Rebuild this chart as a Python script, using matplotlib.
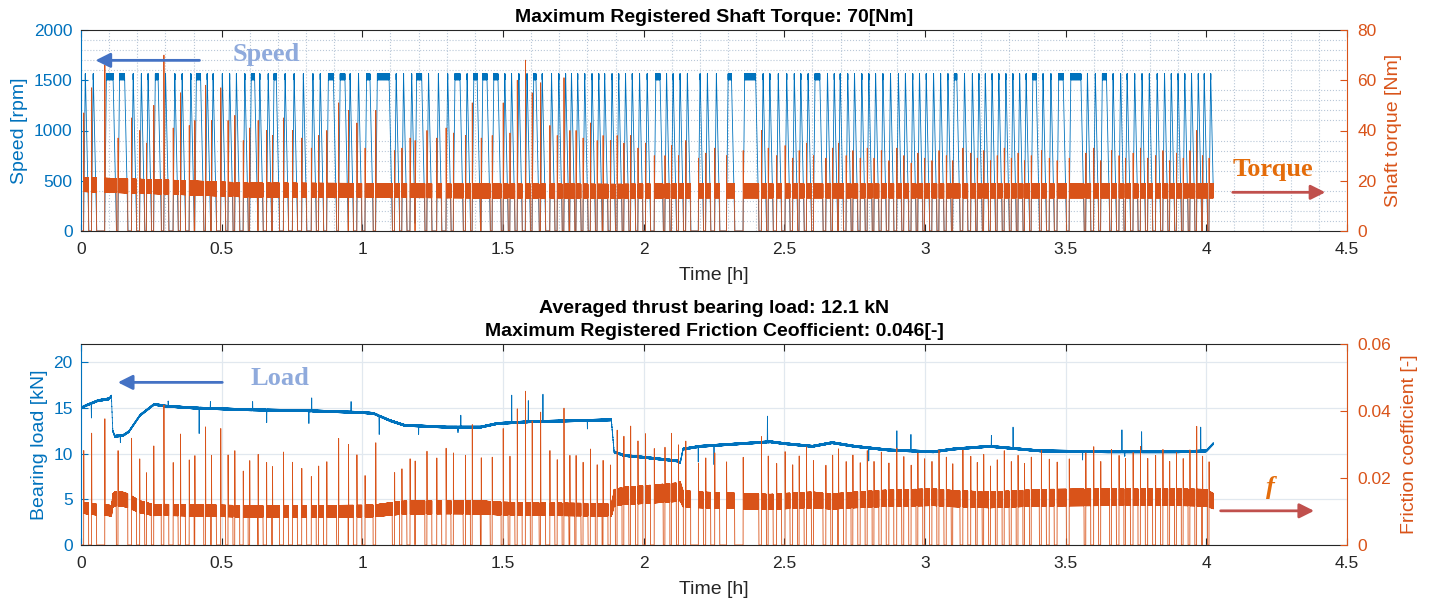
import numpy as np
import matplotlib
matplotlib.use("Agg")
import matplotlib.pyplot as plt
from matplotlib.ticker import MultipleLocator, FuncFormatter

plt.rcParams['font.family'] = ['Liberation Sans', 'DejaVu Sans']

BLUE = '#0072BD'
ORANGE = '#D95319'
DARK = '#262626'

# speed cycles: time the shaft reaches full speed [h]
cycle_start = [
    0.015, 0.043, 0.090, 0.137, 0.185, 0.214, 0.238, 0.264, 0.300, 0.333, 0.359, 0.390,
    0.410, 0.448, 0.469, 0.502, 0.528, 0.552, 0.582, 0.605, 0.635, 0.665, 0.686,
    0.725, 0.757, 0.790, 0.824, 0.850, 0.879, 0.921, 0.956, 0.986, 1.015, 1.053, 1.120,
    1.146, 1.175, 1.193, 1.235, 1.270, 1.303, 1.329, 1.372,
    1.396, 1.428, 1.467, 1.506, 1.530, 1.556, 1.585, 1.609, 1.639, 1.672, 1.698, 1.722,
    1.743, 1.765, 1.790, 1.816, 1.840, 1.861, 1.887, 1.911, 1.935, 1.959, 1.985, 2.012, 2.043,
    2.081, 2.104, 2.129, 2.155, 2.200, 2.226, 2.258, 2.300, 2.359, 2.424, 2.448, 2.478,
    2.508, 2.535, 2.558, 2.584, 2.609, 2.653, 2.677, 2.698, 2.725, 2.749, 2.775, 2.800,
    2.824, 2.850, 2.877, 2.905, 2.930, 2.956, 2.980, 3.004, 3.030, 3.055, 3.081, 3.104,
    3.140, 3.168, 3.191, 3.214, 3.238, 3.262, 3.287, 3.312, 3.336, 3.359, 3.383, 3.419,
    3.447, 3.475,
    3.518, 3.577, 3.605, 3.630, 3.668, 3.695, 3.718, 3.745, 3.771, 3.797, 3.825, 3.851,
    3.875, 3.899, 3.923, 3.947, 3.971, 3.992, 4.015,
]
# how long full speed is held in each cycle [h] (flat dark tops)
cycle_hold = [
    0, 0, 0.024, 0.018, 0, 0, 0, 0.010, 0, 0, 0, 0,
    0.015, 0, 0, 0, 0, 0, 0, 0.012, 0, 0, 0.008,
    0, 0, 0, 0, 0, 0.018, 0.017, 0, 0, 0.012, 0.042, 0,
    0, 0, 0.018, 0, 0, 0, 0.018, 0,
    0.012, 0.015, 0.015, 0, 0, 0, 0, 0.008, 0, 0, 0, 0,
    0, 0, 0, 0, 0, 0, 0, 0, 0, 0, 0, 0, 0.015,
    0, 0, 0, 0, 0, 0, 0, 0.012, 0.039, 0, 0, 0,
    0, 0, 0, 0, 0.017, 0, 0, 0, 0, 0, 0, 0,
    0, 0, 0, 0, 0, 0, 0, 0, 0, 0, 0, 0.009,
    0, 0, 0, 0, 0, 0, 0, 0, 0, 0, 0.012, 0,
    0, 0.016,
    0.036, 0, 0, 0.015, 0, 0, 0, 0, 0, 0, 0, 0,
    0, 0, 0, 0, 0, 0, 0,
]
# start-up torque peak of each cycle [Nm]
torque_peak = [
    47, 57, 66, 37, 45, 40, 35, 50, 70, 41, 55, 42,
    44, 58, 44, 57, 44, 46, 36, 41, 44, 40, 38,
    45, 40, 37, 33, 38, 40, 51, 48, 43, 33, 48, 32,
    33, 37, 36, 40, 37, 41, 39, 38,
    51, 37, 38, 51, 39, 60, 68, 55, 59, 42, 38, 61,
    40, 40, 37, 43, 36, 38, 36, 38, 35, 38, 33, 35, 30,
    30, 34, 30, 36, 29, 31, 33, 30, 32, 40, 33, 30,
    34, 29, 32, 35, 30, 29, 33, 35, 30, 32, 29, 33,
    29, 32, 28, 33, 30, 27, 31, 29, 28, 32, 30, 28,
    33, 31, 29, 32, 28, 30, 33, 29, 31, 28, 30, 32,
    29, 28,
    29, 31, 33, 28, 32, 30, 29, 31, 33, 29, 30, 32,
    28, 31, 29, 32, 40, 30, 29,
]

speed_top = 1535       # rpm
speed_ripple = 30      # rpm, width of the dark band on the flat tops
band_time = [0.0, 0.3, 0.6, 1.9, 2.2, 4.03]           # running torque level [h]
band_torque = [18.5, 17.5, 16.3, 15.8, 16.0, 16.0]    # [Nm]
band_halfwidth = 2.8

# bearing load trend (bottom panel)
load_time = [0.0, 0.02, 0.06, 0.10, 0.108, 0.113, 0.12, 0.15, 0.17, 0.21,
             0.26, 0.30, 0.40, 0.60, 0.80, 1.00, 1.04, 1.10, 1.15, 1.30,
             1.42, 1.48, 1.60, 1.75, 1.885, 1.895, 1.93, 2.00, 2.12, 2.130,
             2.14, 2.20, 2.30, 2.40, 2.45, 2.50, 2.60, 2.67, 2.75, 2.87,
             3.03, 3.10, 3.23, 3.41, 3.65, 3.90, 4.00, 4.025]
load_kn = [15.0, 15.3, 15.8, 16.0, 16.3, 12.5, 11.9, 12.0, 12.4, 14.2,
           15.4, 15.2, 15.0, 14.8, 14.7, 14.5, 14.4, 13.6, 13.1, 12.9,
           12.9, 13.3, 13.5, 13.6, 13.7, 10.2, 9.8, 9.6, 9.2, 9.0,
           10.5, 10.8, 11.0, 11.2, 11.3, 11.1, 10.8, 11.2, 10.8, 10.4,
           10.2, 10.5, 10.8, 10.3, 10.2, 10.2, 10.3, 11.1]
load_spike_time = [0.037, 0.140, 0.310, 0.420, 0.460, 0.610, 0.660, 0.810, 0.820, 0.960,
                   1.060, 1.200, 1.340, 1.350, 1.531, 1.590, 1.642, 1.800, 2.194, 2.250,
                   2.440, 2.800, 2.900, 2.950, 3.236, 3.313, 3.560, 3.700, 3.710, 3.770, 3.980]
load_spike_kn = [14.0, 11.1, 15.8, 12.3, 15.6, 15.8, 13.5, 13.4, 16.0, 15.6,
                 12.2, 12.0, 12.4, 14.3, 16.3, 15.7, 16.4, 12.6, 9.0, 8.7,
                 14.0, 9.3, 12.4, 12.2, 12.1, 12.8, 9.2, 12.5, 9.7, 12.3, 12.8]
load_ripple = 0.1

mean_radius = 0.110    # m, friction coefficient = torque / (load * radius)
t_end = 4.025

# ---- build the traces ----
RISE, FALL, MIN_HOLD = 0.006, 0.012, 0.0008
spike_at = [s - RISE + 0.0008 for s in cycle_start]
t = np.union1d(np.arange(0, t_end, 0.0002), spike_at + load_spike_time)
zig = np.where(np.arange(t.size) % 2 == 0, 1.0, -1.0)

speed = np.zeros_like(t)
for s, h in zip(cycle_start, cycle_hold):
    e = s + max(h, MIN_HOLD)
    speed = np.maximum(speed, np.interp(t, [s - RISE, s, e, e + FALL],
                                        [0, speed_top, speed_top, 0], left=0, right=0))
speed = np.where(speed >= speed_top - 1e-6, speed_top + speed_ripple * zig, speed)

band = np.interp(t, band_time, band_torque) + band_halfwidth * zig
torque = np.where(speed > 120, band, 0.0)
for ts, pk in zip(spike_at, torque_peak):
    torque = np.maximum(torque, np.interp(t, [ts - 0.0003, ts, ts + 0.0012], [0, pk, 0],
                                          left=0, right=0))

load_smooth = np.interp(t, load_time, load_kn)
load = load_smooth + load_ripple * zig
for ts, v in zip(load_spike_time, load_spike_kn):
    d = v - np.interp(ts, load_time, load_kn)
    load += np.interp(t, [ts - 0.0008, ts, ts + 0.0008], [0, d, 0], left=0, right=0)
friction = torque / (load_smooth * 1000 * mean_radius)

# ---- figure ----
W, H = 1435, 605
fig = plt.figure(figsize=(W / 100, H / 100), dpi=100)
ax1 = fig.add_axes([81 / W, 1 - 231 / H, 1266 / W, 201 / H])
ax1r = ax1.twinx()
ax2 = fig.add_axes([81 / W, 1 - 545 / H, 1266 / W, 201 / H])
ax2r = ax2.twinx()

fmt = FuncFormatter(lambda v, p: '0' if abs(v) < 1e-12 else f'{v:g}')

for a, ar in ((ax1, ax1r), (ax2, ax2r)):
    a.set_xlim(0, 4.5)
    a.xaxis.set_major_locator(MultipleLocator(0.5))
    a.xaxis.set_major_formatter(fmt)
    a.spines['right'].set_visible(False)
    for sp in ('top', 'bottom'):
        a.spines[sp].set_color(DARK)
        a.spines[sp].set_linewidth(0.8)
        ar.spines[sp].set_visible(False)
    ar.spines['left'].set_visible(False)
    a.spines['left'].set_color(BLUE)
    a.spines['left'].set_linewidth(0.8)
    ar.spines['right'].set_color(ORANGE)
    ar.spines['right'].set_linewidth(0.8)
    a.tick_params(axis='x', which='major', top=True, direction='in', length=5, width=0.8,
                  color=DARK, labelcolor=DARK, labelsize=12.5, pad=8)
    a.tick_params(axis='y', which='major', direction='in', length=5, width=0.8,
                  color=BLUE, labelcolor=BLUE, labelsize=12.5, pad=6)
    ar.tick_params(axis='y', which='major', direction='in', length=5, width=0.8,
                   color=ORANGE, labelcolor=ORANGE, labelsize=12.5, pad=7.5)
    a.tick_params(which='minor', length=0)
    a.set_xlabel('Time [h]', fontsize=14, color=DARK, labelpad=7)
    a.set_zorder(1)
    ar.set_zorder(2)
    ar.patch.set_visible(False)

# top: speed and torque
ax1.set_ylim(0, 2000)
ax1.yaxis.set_major_locator(MultipleLocator(500))
ax1r.set_ylim(0, 80)
ax1r.yaxis.set_major_locator(MultipleLocator(20))
ax1.xaxis.set_minor_locator(MultipleLocator(0.1))
ax1.yaxis.set_minor_locator(MultipleLocator(100))
ax1.grid(which='minor', linestyle=':', color='#b9c8d8', linewidth=0.8)
ax1.set_axisbelow(True)
ax1.plot(t, speed, color=BLUE, lw=0.6)
ax1r.plot(t, torque, color=ORANGE, lw=0.6)
ax1.set_ylabel('Speed [rpm]', fontsize=14, color=BLUE)
ax1r.set_ylabel('Shaft torque [Nm]', fontsize=14, color=ORANGE, labelpad=6)
ax1.set_title('Maximum Registered Shaft Torque: 70[Nm]', fontsize=14,
              fontweight='bold', color='black', pad=5.5)

# bottom: load and friction
ax2.set_ylim(0, 22)
ax2.yaxis.set_major_locator(MultipleLocator(5))
ax2r.set_ylim(0, 0.06)
ax2r.yaxis.set_major_locator(MultipleLocator(0.02))
ax2r.yaxis.set_major_formatter(fmt)
ax2.grid(which='major', linestyle='-', color='#e1e8ef', linewidth=0.9)
ax2.set_axisbelow(True)
ax2.plot(t, load, color=BLUE, lw=0.6)
ax2r.plot(t, friction, color=ORANGE, lw=0.6)
ax2.set_ylabel('Bearing load [kN]', fontsize=14, color=BLUE)
ax2r.set_ylabel('Friction coefficient [-]', fontsize=14, color=ORANGE, labelpad=7)
ax2.set_title('Averaged thrust bearing load: 12.1 kN\n'
              'Maximum Registered Friction Ceofficient: 0.046[-]',
              fontsize=14, fontweight='bold', color='black', pad=6, linespacing=1.45)

# arrows and callouts
serif = dict(family='Liberation Serif', fontweight='bold', fontsize=19,
             ha='center', va='center')
left_arrow = dict(arrowstyle='-|>', color='#4472C4', lw=2, mutation_scale=22)
right_arrow = dict(arrowstyle='-|>', color='#C0504D', lw=2, mutation_scale=22)

ax1r.annotate('', xy=(0.0415, 1698 / 25), xytext=(0.431, 1698 / 25), arrowprops=left_arrow)
ax1r.text(0.658, 1761 / 25, 'Speed', color='#8FAADC', **serif)
ax1r.annotate('', xy=(4.433, 15.4), xytext=(4.084, 15.4), arrowprops=right_arrow)
ax1r.text(4.237, 24.5, 'Torque', color='#E46C0A', **serif)

ax2r.annotate('', xy=(0.121, 17.8 * 0.06 / 22), xytext=(0.512, 17.8 * 0.06 / 22),
              arrowprops=left_arrow)
ax2r.text(0.706, 18.2 * 0.06 / 22, 'Load', color='#8FAADC', **serif)
ax2r.annotate('', xy=(4.393, 0.0102), xytext=(4.041, 0.0102), arrowprops=right_arrow)
ax2r.text(4.226, 0.0173, 'f', color='#E46C0A', style='italic', **serif)

fig.savefig('out.png', dpi=100)
